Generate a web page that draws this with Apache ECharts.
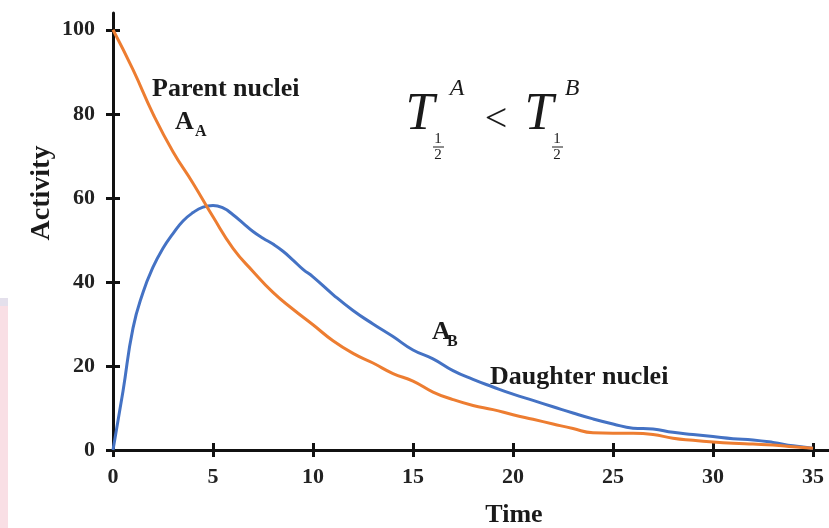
<!DOCTYPE html>
<html>
<head>
<meta charset="utf-8">
<script src="https://cdn.jsdelivr.net/npm/echarts@6/dist/echarts.min.js"></script>
<style>
  html, body { margin: 0; padding: 0; background: #fff; }
  #main { width: 829px; height: 528px; }
</style>
</head>
<body>
<div id="main"></div>
<script>
// time values and activities
var parentX = [0, 1, 2, 3, 4, 5, 6, 7, 8, 9, 10, 11, 12, 13, 14, 15, 16, 17, 18, 19, 20,
  21, 22, 23, 24, 25, 26, 27, 28, 29, 30, 31, 32, 33, 34, 35];
var parentY = [100, 90.5, 80, 71, 63.5, 55.5, 48, 42.5, 37.5, 33.5, 29.8, 26, 23, 20.7, 18.2, 16.4, 13.8, 12, 10.6, 9.6, 8.4,
  7.3, 6.2, 5.1, 4.1, 4, 4, 3.7, 2.8, 2.3, 1.9, 1.6, 1.4, 1.2, 0.8, 0.4];

var daughterX = [0, 0.5, 1, 1.5, 2, 2.5, 3, 3.5, 4, 4.5, 5, 5.5, 6, 6.5, 7, 7.5, 8, 8.5, 9, 9.5, 10,
  11, 12, 13, 14, 15, 16, 17, 18, 19, 20, 21, 22, 23, 24, 25, 26, 27, 28, 29, 30, 31, 32, 33, 34, 35];
var daughterY = [0, 14, 29, 37.5, 43.5, 48, 51.5, 54.5, 56.5, 57.8, 58.2, 57.6, 56, 54, 52, 50.4, 49, 47.3, 45.2, 43, 41.2,
  37, 33.2, 30, 27, 23.8, 21.7, 18.9, 16.8, 15, 13.3, 11.8, 10.3, 8.8, 7.4, 6.2, 5.2, 5, 4.2, 3.7, 3.2, 2.7, 2.4, 1.8, 1, 0.4];

var xTicks = [0, 5, 10, 15, 20, 25, 30, 35];
var yTicks = [0, 20, 40, 60, 80, 100];

function pairs(xs, ys) {
  return xs.map(function (x, i) { return [x, ys[i]]; });
}

var serif = '"Liberation Serif", "DejaVu Serif", serif';

var myChart = echarts.init(document.getElementById('main'));

// one axis draws the outer half of each tick, the twin draws the inner half
function xAx(inside, withLabels) {
  return {
    type: 'value', min: 0, max: 35.8, position: 'bottom',
    axisLine: { show: withLabels, onZero: false, lineStyle: { color: '#111', width: 3 } },
    axisTick: { show: true, inside: inside, length: 7, customValues: xTicks, lineStyle: { color: '#111', width: 3 } },
    axisLabel: { show: withLabels, customValues: xTicks, margin: 16, fontFamily: serif, fontWeight: 'bold', fontSize: 22, color: '#222' },
    splitLine: { show: false }
  };
}
function yAx(inside, withLabels) {
  return {
    type: 'value', min: 0, max: 104, position: 'left',
    axisLine: { show: withLabels, onZero: false, lineStyle: { color: '#111', width: 3 } },
    axisTick: { show: true, inside: inside, length: 7, customValues: yTicks, lineStyle: { color: '#111', width: 3 } },
    axisLabel: { show: withLabels, customValues: yTicks, margin: 18, fontFamily: serif, fontWeight: 'bold', fontSize: 22, color: '#222' },
    splitLine: { show: false }
  };
}

function txt(x, y, s, size, opts) {
  opts = opts || {};
  return {
    type: 'text', x: x, y: y, rotation: opts.rotation || 0, z: 10,
    style: {
      text: s, fill: '#1a1a1a',
      font: (opts.italic ? 'italic ' : '') + (opts.bold === false ? 'normal ' : 'bold ') + size + 'px ' + serif,
      align: opts.align || 'left', verticalAlign: 'middle'
    }
  };
}

var option = {
  backgroundColor: '#fff',
  animation: false,
  grid: { left: 113, right: 0, top: 13, bottom: 78 },
  xAxis: [xAx(false, true), xAx(true, false)],
  yAxis: [yAx(false, true), yAx(true, false)],
  series: [
    {
      name: 'Daughter nuclei', type: 'line', smooth: true, showSymbol: false,
      data: pairs(daughterX, daughterY),
      lineStyle: { color: '#4472C4', width: 3 }, z: 3
    },
    {
      name: 'Parent nuclei', type: 'line', smooth: true, showSymbol: false,
      data: pairs(parentX, parentY),
      lineStyle: { color: '#ED7D31', width: 3 }, z: 4
    }
  ],
  graphic: [
    // faint watermark strip on the left edge
    { type: 'rect', shape: { x: 0, y: 298, width: 8, height: 230 }, style: { fill: '#f9dfe5' }, z: 0 },
    { type: 'rect', shape: { x: 0, y: 298, width: 8, height: 8 }, style: { fill: '#e4e0ec' }, z: 0 },

    txt(42, 193, 'Activity', 28, { align: 'center', rotation: Math.PI / 2 }),
    txt(514, 515, 'Time', 26, { align: 'center' }),

    txt(152, 89, 'Parent nuclei', 26),
    txt(175, 122, 'A', 26),
    txt(195, 132, 'A', 16),
    txt(432, 332, 'A', 26),
    txt(447, 342, 'B', 16),
    txt(490, 377, 'Daughter nuclei', 26),

    // T_{1/2}^A < T_{1/2}^B
    txt(420, 115, 'T', 52, { italic: true, bold: false, align: 'center' }),
    txt(457, 89, 'A', 24, { italic: true, bold: false, align: 'center' }),
    txt(438, 139, '1', 15, { bold: false, align: 'center' }),
    { type: 'line', shape: { x1: 433, y1: 147, x2: 444, y2: 147 }, style: { stroke: '#1a1a1a', lineWidth: 1 } },
    txt(438, 155, '2', 15, { bold: false, align: 'center' }),
    txt(496, 120, '<', 40, { bold: false, align: 'center' }),
    txt(539, 115, 'T', 52, { italic: true, bold: false, align: 'center' }),
    txt(572, 89, 'B', 24, { italic: true, bold: false, align: 'center' }),
    txt(557, 139, '1', 15, { bold: false, align: 'center' }),
    { type: 'line', shape: { x1: 552, y1: 147, x2: 563, y2: 147 }, style: { stroke: '#1a1a1a', lineWidth: 1 } },
    txt(557, 155, '2', 15, { bold: false, align: 'center' })
  ]
};

myChart.setOption(option);
</script>
</body>
</html>
